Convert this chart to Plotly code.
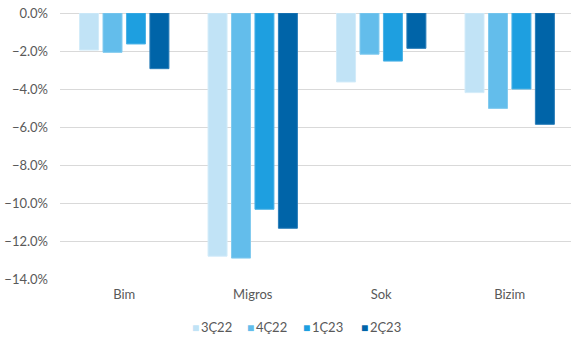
import plotly.graph_objects as go

categories = ["Bim", "Migros", "Sok", "Bizim"]
series_names = ["3Ç22", "4Ç22", "1Ç23", "2Ç23"]
v_3c22 = [-1.95, -12.8, -3.63, -4.19]
v_4c22 = [-2.07, -12.9, -2.17, -5.02]
v_1c23 = [-1.63, -10.33, -2.53, -4.0]
v_2c23 = [-2.93, -11.33, -1.86, -5.86]
colors = ["#c1e3f6", "#63bdeb", "#1e9fe0", "#0064a8"]
line_colors = ["#d2ebf9", "#83cbef", "#4bb2e6", "#2a7db8"]
legend_x = [0.254, 0.362, 0.472, 0.585]

fig = go.Figure()
for name, vals, c, lc in zip(series_names, [v_3c22, v_4c22, v_1c23, v_2c23], colors, line_colors):
    fig.add_trace(go.Bar(x=categories, y=vals, name=name,
                         marker=dict(color=c, line=dict(color=lc, width=1))))

# legend drawn as text items (compact square + label, as in the reference)
for name, c, lx in zip(series_names, colors, legend_x):
    fig.add_annotation(
        xref="paper", yref="paper", x=lx, y=-0.18, xanchor="left", yanchor="middle",
        showarrow=False,
        text=f"<span style='color:{c};font-size:12px'>■</span>\u2009{name}",
        font=dict(family="Lato, 'Open Sans', sans-serif", size=13, color="#595959"),
    )

font = dict(family="Lato, 'Open Sans', sans-serif", size=13, color="#595959")
fig.update_layout(
    width=571, height=341,
    margin=dict(l=60, r=0, t=13, b=62),
    paper_bgcolor="white", plot_bgcolor="white",
    barmode="group", bargap=0.27, bargroupgap=0.19,
    font=font,
    showlegend=False,
    xaxis=dict(range=[-0.5, 3.477], showgrid=False, showline=False, ticks="",
               ticklabelstandoff=6,
               tickfont=dict(size=13, color="#595959")),
    yaxis=dict(range=[-14, 0], dtick=2, tickformat=".1f", ticksuffix="%",
               showgrid=True, gridcolor="#d9d9d9", gridwidth=1,
               zeroline=True, zerolinecolor="#d9d9d9", zerolinewidth=1,
               showline=False, ticks="", ticklabelstandoff=11,
               tickfont=dict(size=13, color="#595959")),
)
fig.write_html("out.html")
